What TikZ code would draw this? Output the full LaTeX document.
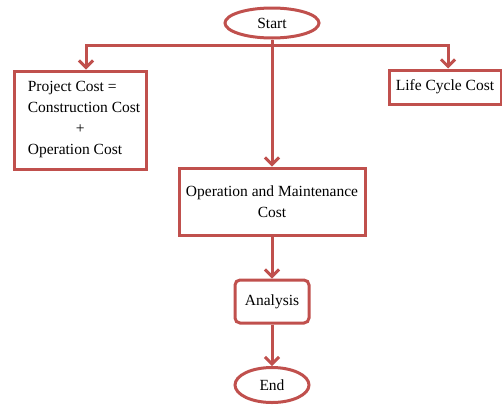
\documentclass[tikz,border=0pt]{standalone}
\usepackage{fontspec}
\setmainfont{Liberation Serif}
\usetikzlibrary{arrows.meta,shapes.geometric}
\definecolor{boxred}{HTML}{C0504D}
\begin{document}
\begin{tikzpicture}[x=1pt,y=-1pt,
  every node/.style={font=\fontsize{15.5}{21}\selectfont},
  box/.style={draw=boxred,line width=3pt,inner sep=0pt,align=center},
  term/.style={draw=boxred,line width=3pt,ellipse,inner sep=0pt},
  link/.style={draw=boxred,line width=3pt,-{Straight Barb[length=7pt,width=14pt]}}]
\useasboundingbox (0,0) rectangle (502,405);
\node[term,minimum width=94pt,minimum height=30pt] (start) at (272,23) {Start};
\node[box,minimum width=132pt,minimum height=98pt,align=left] (proj) at (80,120)
  {\hspace*{8pt}Project Cost =\\\hspace*{8pt}Construction Cost\\\hspace*{56pt}+\\\hspace*{8pt}Operation Cost};
\node[box,minimum width=112pt,minimum height=34pt] (life) at (445,87) {Life Cycle Cost};
\node[box,minimum width=186pt,minimum height=67pt] (ops) at (272,201.5)
  {Operation and Maintenance\\Cost};
\node[box,rounded corners=5pt,minimum width=74pt,minimum height=43pt] (ana) at (272,301.5) {Analysis};
\node[term,minimum width=74pt,minimum height=35pt] (end) at (272,385) {End};
\coordinate (j) at (272,45);
\draw[link] (start) -- (ops);
\draw[link] (j) -| ([xshift=6pt]proj.north);
\draw[link] (j) -| ([xshift=3pt]life.north);
\draw[link] (ops) -- (ana);
\draw[link] (ana) -- (end);
\end{tikzpicture}
\end{document}
